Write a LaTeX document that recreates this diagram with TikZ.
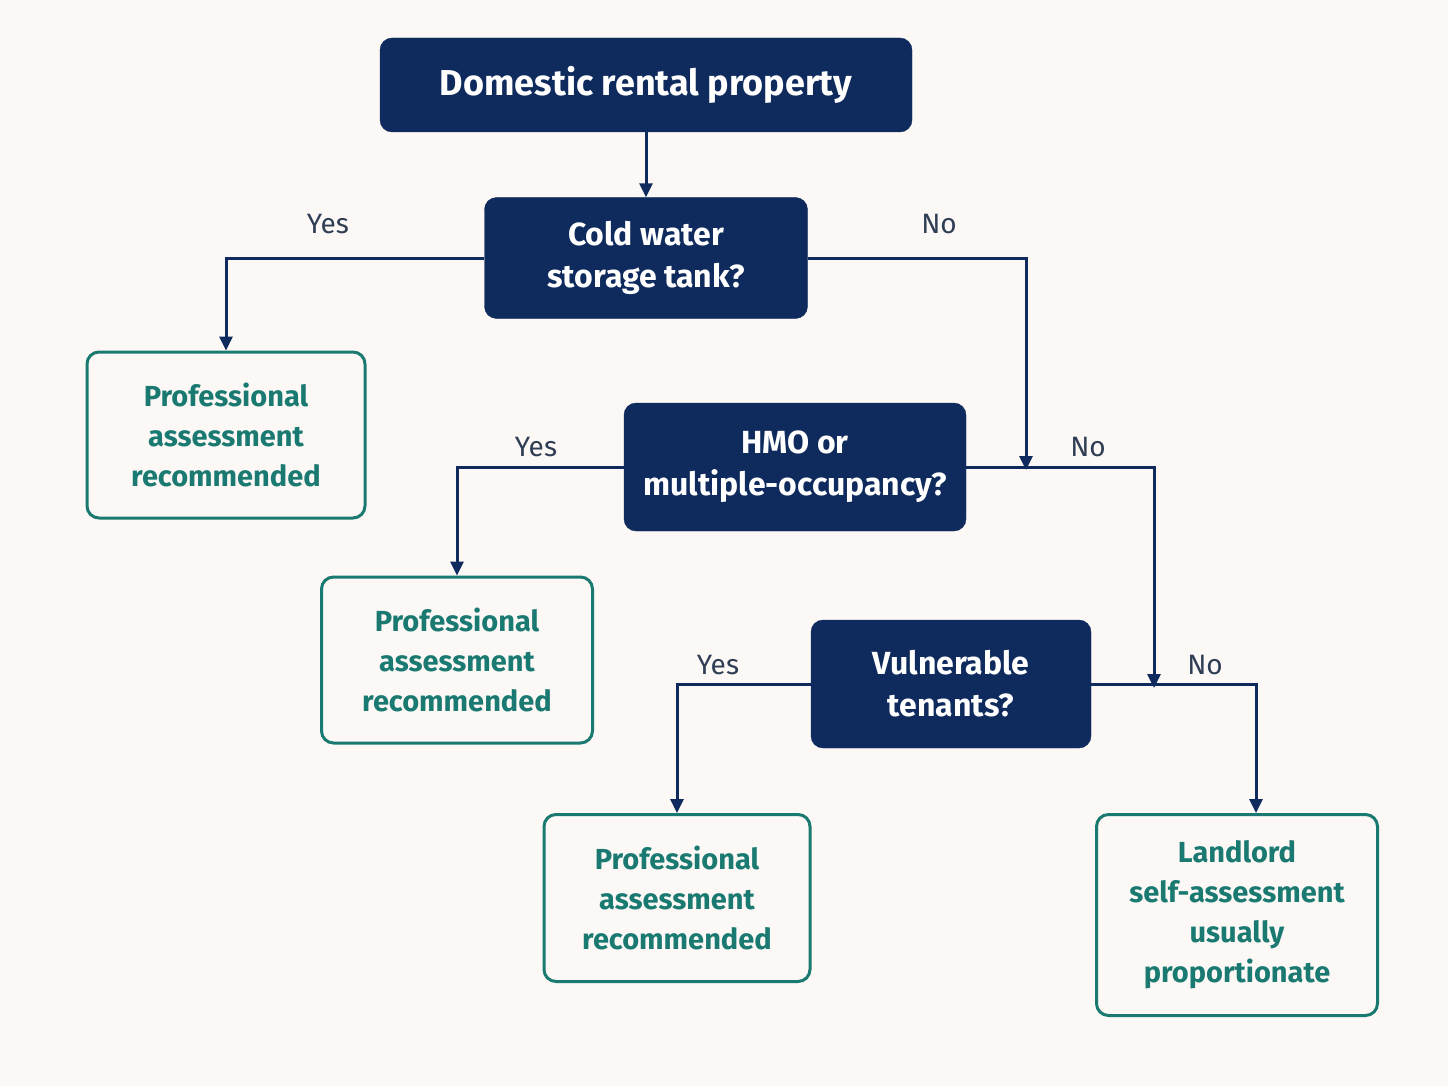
\documentclass[tikz,border=0pt]{standalone}
\usepackage{fontspec}
\setmainfont{Fira Sans}
\usetikzlibrary{arrows.meta}
\definecolor{navy}{HTML}{0F2A5C}
\definecolor{teal}{HTML}{1A7A72}
\definecolor{bg}{HTML}{FBF8F5}
\definecolor{lab}{HTML}{2F3E55}
\begin{document}
\begin{tikzpicture}[x=1pt,y=-1pt,
  dec/.style={draw=navy,fill=navy,rounded corners=12pt,text=white,align=center,font=\fontsize{32}{42}\selectfont\bfseries,inner sep=0pt},
  res/.style={draw=teal,line width=3pt,fill=bg,rounded corners=12pt,text=teal,align=center,font=\fontsize{29}{40}\selectfont\bfseries,inner sep=0pt},
  arr/.style={draw=navy,line width=3pt,-{Triangle[length=14pt,width=13pt]}},
  lbl/.style={text=lab,font=\fontsize{28}{32}\selectfont}]
\fill[bg] (0,0) rectangle (1448,1086);
\useasboundingbox (0,0) rectangle (1448,1086);
\node[dec,minimum width=532,minimum height=94,font=\fontsize{36}{44}\selectfont\bfseries] (top) at (646,85) {Domestic rental property};
\node[dec,minimum width=323,minimum height=121] (cold) at (646,258) {Cold water\\storage tank?};
\node[dec,minimum width=342,minimum height=128] (hmo) at (795,467) {HMO or\\multiple-occupancy?};
\node[dec,minimum width=280,minimum height=128] (vul) at (951,684) {Vulnerable\\tenants?};
\node[res,minimum width=278,minimum height=166] (p1) at (226,435) {Professional\\assessment\\recommended};
\node[res,minimum width=271,minimum height=166] (p2) at (457,660) {Professional\\assessment\\recommended};
\node[res,minimum width=266,minimum height=167] (p3) at (677,898) {Professional\\assessment\\recommended};
\node[res,minimum width=281,minimum height=201] (ll) at (1237,915) {Landlord\\self-assessment\\usually\\proportionate};
\coordinate (j1) at (1026,470);
\coordinate (j2) at (1154,688);
\draw[arr] (top) -- (cold);
\draw[arr] (cold.west) -| (p1.north);
\draw[arr] (cold.east) -| (j1);
\draw[arr] (hmo.west) -| (p2.north);
\draw[arr] (hmo.east) -| (j2);
\draw[arr] (vul.west) -| (p3.north);
\draw[arr] (vul.east) -| ([xshift=19pt]ll.north);
\node[lbl] (y1) at (328,224) {Yes};
\node[lbl] (n1) at (939,224) {No};
\node[lbl] (y2) at (536,447) {Yes};
\node[lbl] (n2) at (1088,447) {No};
\node[lbl] (y3) at (718,665) {Yes};
\node[lbl] (n3) at (1205,665) {No};
\end{tikzpicture}
\end{document}
